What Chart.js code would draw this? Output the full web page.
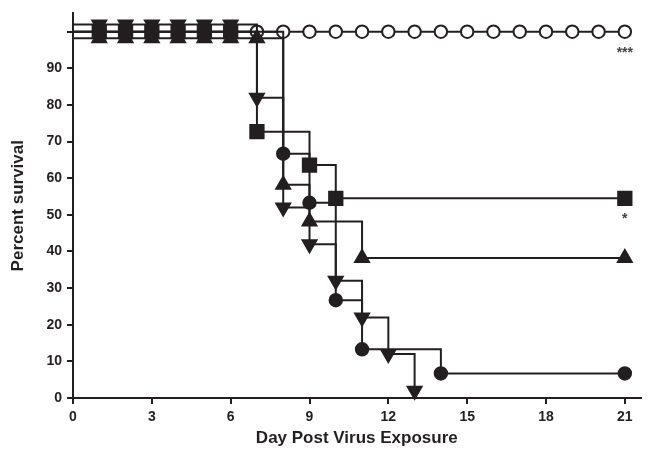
<!DOCTYPE html>
<html>
<head>
<meta charset="utf-8">
<script src="https://cdn.jsdelivr.net/npm/chart.js@4.4.0/dist/chart.umd.min.js"></script>
<style>
  html, body { margin: 0; padding: 0; background: #fff; }
  #wrap { width: 652px; height: 451px; }
</style>
</head>
<body>
<div id="wrap"><canvas id="survChart" width="652" height="451"></canvas></div>
<script>
// Kaplan-Meier survival (%) per group: day of each step and survival after it
var openDays = [0, 1, 2, 3, 4, 5, 6, 7, 8, 9, 10, 11, 12, 13, 14, 15, 16, 17, 18, 19, 20, 21];
var openSurv = [100, 100, 100, 100, 100, 100, 100, 100, 100, 100, 100, 100, 100, 100, 100, 100, 100, 100, 100, 100, 100, 100];

var squareDays = [0, 1, 2, 3, 4, 5, 6, 7, 9, 10, 21];
var squareSurv = [100, 100, 100, 100, 100, 100, 100, 72.7, 63.6, 54.5, 54.5];

var circleDays = [0, 1, 2, 3, 4, 5, 6, 8, 9, 10, 11, 14, 21];
var circleSurv = [100, 100, 100, 100, 100, 100, 100, 66.7, 53.3, 26.7, 13.3, 6.7, 6.7];

var upDays = [0, 1, 2, 3, 4, 5, 6, 7, 8, 9, 11, 21];
var upSurv = [100, 100, 100, 100, 100, 100, 100, 100, 60, 50, 40, 40];

var downDays = [0, 1, 2, 3, 4, 5, 6, 7, 8, 9, 10, 11, 12, 13];
var downSurv = [100, 100, 100, 100, 100, 100, 100, 80, 50, 40, 30, 20, 10, 0];

var xTicks = [0, 3, 6, 9, 12, 15, 18, 21];
var yTicks = [0, 10, 20, 30, 40, 50, 60, 70, 80, 90, 100];

// significance marks under the day-21 symbols
var sigText = ['***', '*'];
var sigSurv = [100, 54.5];

var ink = '#231f20';
var fontFam = '"Liberation Sans", Arial, sans-serif';

// curves sitting on top of each other get nudged a little (like Prism does)
function toPoints(days, surv, nudge) {
    var pts = [];
    for (var i = 0; i < days.length; i++) {
        pts.push({ x: days[i], y: surv[i] + nudge });
    }
    return pts;
}

// no symbol at day 0
function hideFirst(r) {
    return function (ctx) { return ctx.dataIndex === 0 ? 0 : r; };
}

function series(days, surv, nudge, style, radius, fill, rot) {
    return {
        data: toPoints(days, surv, nudge),
        stepped: true,
        borderColor: ink,
        borderWidth: 2,
        pointStyle: style,
        pointRadius: hideFirst(radius),
        pointRotation: rot || 0,
        pointBackgroundColor: fill,
        pointBorderColor: ink,
        pointBorderWidth: 2,
        clip: false
    };
}

var sigPlugin = {
    id: 'sigMarks',
    afterDatasetsDraw: function (chart) {
        var c = chart.ctx;
        var xs = chart.scales.x, ys = chart.scales.y;
        c.save();
        c.fillStyle = '#444';
        c.font = 'bold 14px ' + fontFam;
        c.textAlign = 'center';
        c.textBaseline = 'middle';
        for (var i = 0; i < sigText.length; i++) {
            c.fillText(sigText[i], xs.getPixelForValue(21), ys.getPixelForValue(sigSurv[i]) + 21);
        }
        c.restore();
    }
};

new Chart(document.getElementById('survChart'), {
    type: 'line',
    data: {
        datasets: [
            series(downDays, downSurv, 2, 'triangle', 8, ink, 180),
            series(upDays, upSurv, -1.8, 'triangle', 8, ink),
            series(squareDays, squareSurv, 0, 'rect', 9.4, ink),
            series(circleDays, circleSurv, 0, 'circle', 6.2, ink),
            series(openDays, openSurv, 0, 'circle', 6.2, '#fff')
        ]
    },
    options: {
        responsive: false,
        animation: false,
        layout: { padding: { top: 13, right: 9, left: 0, bottom: 0 } },
        plugins: { legend: { display: false }, tooltip: { enabled: false } },
        scales: {
            x: {
                type: 'linear',
                min: 0,
                max: 21.6,
                afterBuildTicks: function (s) { s.ticks = xTicks.map(function (v) { return { value: v }; }); },
                afterFit: function (s) { s.height = 53; },
                grid: { drawOnChartArea: false, drawTicks: true, tickLength: 6, color: ink, lineWidth: 2 },
                border: { color: ink, width: 2 },
                ticks: { color: ink, padding: 5, maxRotation: 0, font: { family: fontFam, size: 14, weight: 'bold' } },
                title: {
                    display: true,
                    text: 'Day Post Virus Exposure',
                    color: ink,
                    padding: { top: 0, bottom: 2 },
                    font: { family: fontFam, size: 17, weight: 'bold' }
                }
            },
            y: {
                type: 'linear',
                min: 0,
                max: 105,
                afterBuildTicks: function (s) { s.ticks = yTicks.map(function (v) { return { value: v }; }); },
                afterFit: function (s) { s.width = 73; },
                grid: { drawOnChartArea: false, drawTicks: true, tickLength: 6, color: ink, lineWidth: 2 },
                border: { color: ink, width: 2 },
                ticks: {
                    color: ink,
                    padding: 5,
                    font: { family: fontFam, size: 14, weight: 'bold' },
                    callback: function (v) { return v === 100 ? '' : v; }
                },
                title: {
                    display: true,
                    text: 'Percent survival',
                    color: ink,
                    padding: { top: 8, bottom: 0 },
                    font: { family: fontFam, size: 17, weight: 'bold' }
                }
            }
        }
    },
    plugins: [sigPlugin]
});
</script>
</body>
</html>
